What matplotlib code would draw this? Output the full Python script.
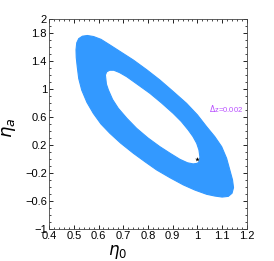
import matplotlib
matplotlib.use("Agg")
import matplotlib.pyplot as plt
from matplotlib.path import Path
from matplotlib.patches import PathPatch
from matplotlib.ticker import MultipleLocator

plt.rcParams['font.family'] = ['Liberation Sans', 'DejaVu Sans']

# outer boundary of the allowed region (eta_0, eta_a)
outer_x = [0.509, 0.512, 0.520, 0.535, 0.555, 0.580, 0.610, 0.646, 0.690, 0.741,
           0.795, 0.848, 0.900, 0.956, 1.000, 1.037, 1.070, 1.098, 1.118, 1.131,
           1.142, 1.146, 1.140, 1.125, 1.100, 1.070, 1.037, 0.990, 0.943, 0.890,
           0.835, 0.790, 0.741, 0.690, 0.646, 0.610, 0.579, 0.553, 0.532, 0.520,
           0.514, 0.510]
outer_y = [1.560, 1.660, 1.720, 1.755, 1.765, 1.750, 1.710, 1.630, 1.530, 1.414,
           1.275, 1.129, 0.970, 0.795, 0.630, 0.462, 0.320, 0.176, 0.010, -0.157,
           -0.300, -0.410, -0.490, -0.535, -0.545, -0.530, -0.505, -0.445, -0.371, -0.270,
           -0.157, -0.045, 0.081, 0.225, 0.367, 0.500, 0.652, 0.810, 0.986, 1.150,
           1.319, 1.450]

# inner hole
inner_x = [0.628, 0.633, 0.645, 0.662, 0.685, 0.714, 0.760, 0.808, 0.855, 0.902,
           0.935, 0.963, 0.982, 0.997, 1.006, 1.010, 1.009, 1.000, 0.983, 0.960,
           0.929, 0.890, 0.848, 0.800, 0.754, 0.715, 0.680, 0.657, 0.640, 0.632]
inner_y = [1.200, 1.245, 1.268, 1.268, 1.235, 1.176, 1.060, 0.938, 0.800, 0.652,
           0.535, 0.414, 0.320, 0.224, 0.130, 0.033, -0.030, -0.062, -0.071, -0.055,
           -0.005, 0.080, 0.176, 0.300, 0.438, 0.580, 0.724, 0.850, 0.986, 1.070]

fiducial = (1.0, 0.0)
label = r"$\Delta$z=0.002"
label_pos = (1.046, 0.72)

fig = plt.figure(figsize=(2.74, 2.61), dpi=100)
ax = fig.add_axes([0.179, 0.123, 0.722, 0.804])

verts = list(zip(outer_x, outer_y)) + [(outer_x[0], outer_y[0])]
codes = [Path.MOVETO] + [Path.LINETO] * (len(outer_x) - 1) + [Path.CLOSEPOLY]
hole = list(zip(inner_x[::-1], inner_y[::-1]))
verts += hole + [hole[0]]
codes += [Path.MOVETO] + [Path.LINETO] * (len(hole) - 1) + [Path.CLOSEPOLY]
ax.add_patch(PathPatch(Path(verts, codes), facecolor="#3399ff", edgecolor="#3399ff", lw=0.8))

ax.plot(*fiducial, marker="*", color="black", ms=3.5, mew=0)
ax.text(*label_pos, label, color="#b84dff", fontsize=5.5, va="center")

ax.set_xlim(0.4, 1.2)
ax.set_ylim(-1, 2)
ax.set_xticks([0.4, 0.5, 0.6, 0.7, 0.8, 0.9, 1, 1.1, 1.2])
ax.set_xticklabels(["0.4", "0.5", "0.6", "0.7", "0.8", "0.9", "1", "1.1", "1.2"])
ax.set_yticks([-1, -0.6, -0.2, 0.2, 0.6, 1, 1.4, 1.8, 2])
ax.set_yticklabels(["\u22121", "\u22120.6", "\u22120.2", "0.2", "0.6", "1", "1.4", "1.8", "2"])
ax.xaxis.set_minor_locator(MultipleLocator(0.02))
ax.yaxis.set_minor_locator(MultipleLocator(0.1))
ax.tick_params(which="both", direction="in", top=True, right=True, labelsize=8, pad=1.5)
ax.tick_params(which="major", length=3, width=0.6)
ax.tick_params(which="minor", length=1.5, width=0.5)
for s in ax.spines.values():
    s.set_linewidth(0.6)
    s.set_color("#444444")

ax.set_xlabel(r"$\eta_0$", fontsize=12, labelpad=-1)
ax.xaxis.set_label_coords(0.345, -0.065)
ax.set_ylabel(r"$\eta_a$", fontsize=13)
ax.yaxis.set_label_coords(-0.155, 0.48)

fig.savefig("out.png", dpi=100)
